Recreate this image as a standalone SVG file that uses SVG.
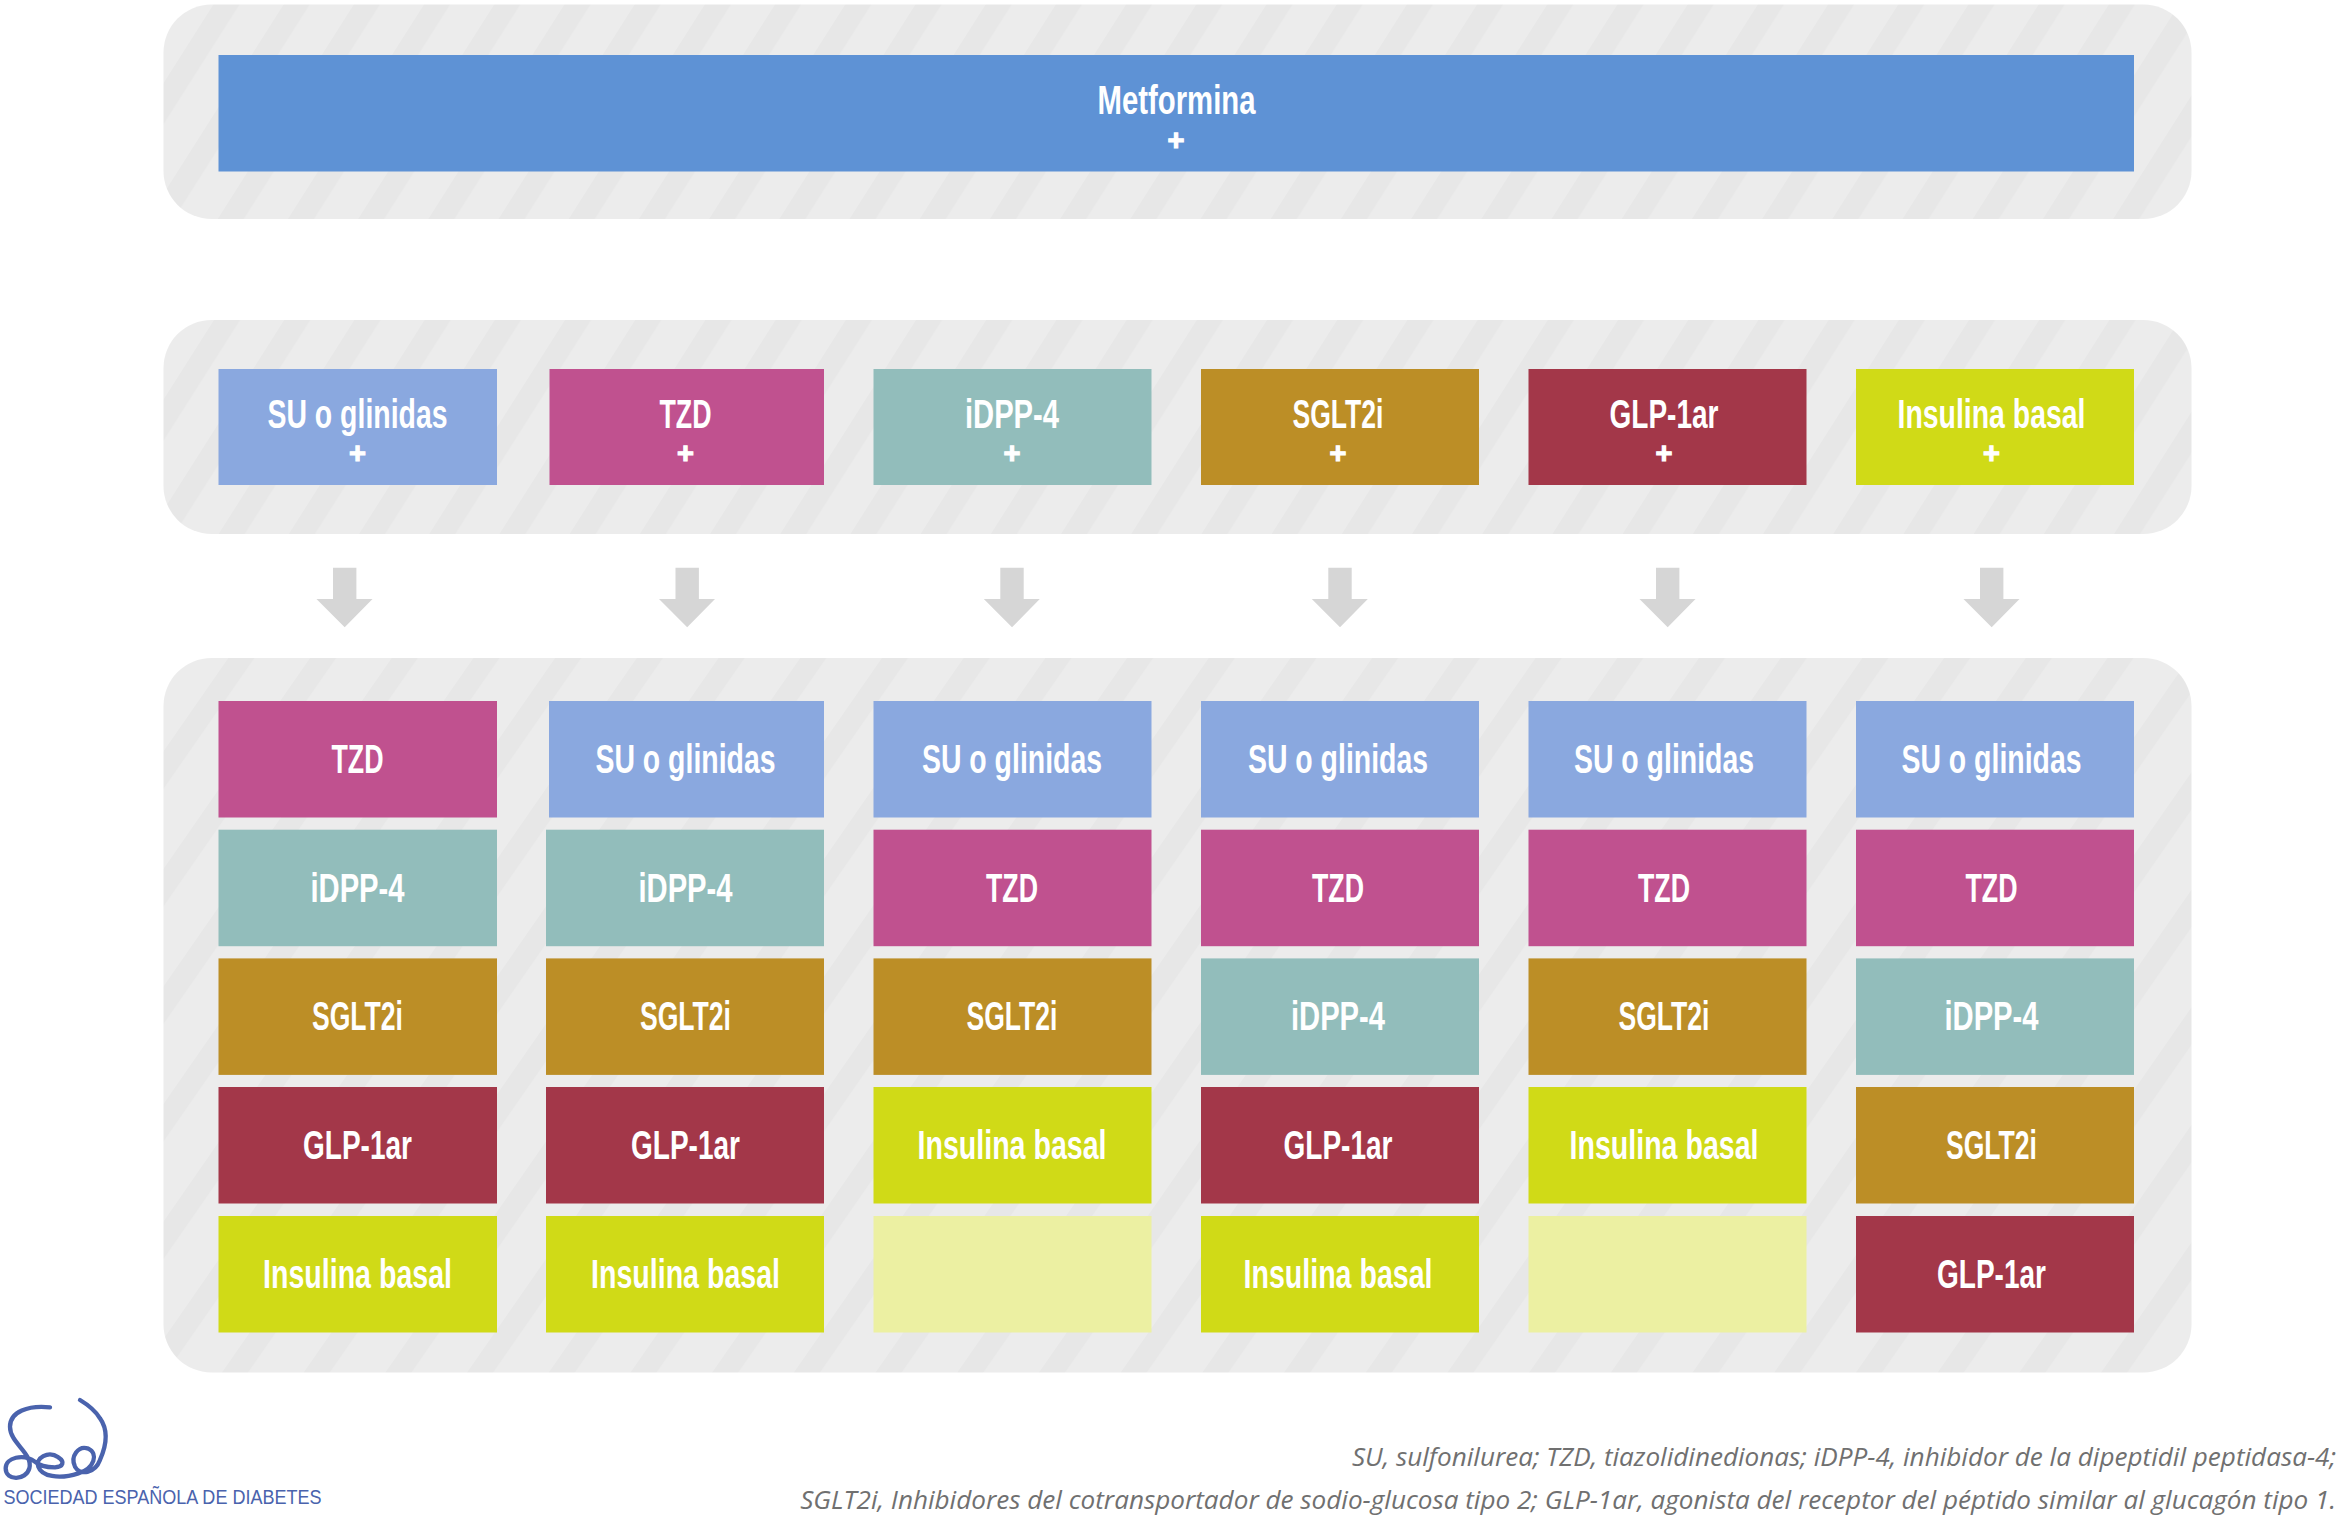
<svg xmlns="http://www.w3.org/2000/svg" width="2341" height="1519" viewBox="0 0 2341 1519">
<defs>
<pattern id="s1" width="70.2" height="100" patternUnits="userSpaceOnUse" patternTransform="translate(5.7 0) skewX(-32.4)"><rect width="70.2" height="100" fill="#ececec"/><rect width="26" height="100" fill="#e7e7e7"/></pattern>
<pattern id="s2" width="70.2" height="100" patternUnits="userSpaceOnUse" patternTransform="translate(-4.1 0) skewX(-32.4)"><rect width="70.2" height="100" fill="#ececec"/><rect width="26" height="100" fill="#e7e7e7"/></pattern>
<pattern id="s3" width="81.7" height="100" patternUnits="userSpaceOnUse" patternTransform="translate(32.1 0) skewX(-34.8)"><rect width="81.7" height="100" fill="#ececec"/><rect width="26" height="100" fill="#e7e7e7"/></pattern>
</defs>
<style>
.l{font-family:"Liberation Sans Narrow","Liberation Sans",Arial,sans-serif;font-weight:700;font-size:41.5px;fill:#fff;text-anchor:middle}
.p{font-family:"Liberation Sans",Arial,sans-serif;font-weight:700;font-size:29px;fill:#fff;stroke:#fff;stroke-width:1.2px;text-anchor:middle}
.su{fill:#8aa8df}.tzd{fill:#c0518f}.idpp{fill:#92bdbb}.sglt{fill:#bc8e26}.glp{fill:#a33749}.ins{fill:#d0da17}.off{fill:#ecf0a2}.met{fill:#5e92d5}
.ar{fill:#d6d6d6}
.foot{font-family:"Open Sans","Noto Sans",sans-serif;font-style:italic;font-size:26.1px;fill:#707070;text-anchor:end}
</style>
<rect width="2341" height="1519" fill="#fff"/>
<g id="panels">
<rect x="163.5" y="4.5" width="2028" height="214.5" rx="48" fill="url(#s1)"/>
<rect x="163.5" y="320" width="2028" height="214" rx="48" fill="url(#s2)"/>
<rect x="163.5" y="658" width="2028" height="714.5" rx="48" fill="url(#s3)"/>
</g>
<g id="metformina"><rect class="met" x="218.5" y="55" width="1915.5" height="116.5"/><text class="l" x="1176.5" y="114" textLength="158" lengthAdjust="spacingAndGlyphs">Metformina</text><text class="p" x="1176" y="150.100">+</text></g>
<g id="top-su"><rect class="su" x="218.500" y="369" width="278.500" height="116"/><text class="l" x="357.500" y="428.300" textLength="180" lengthAdjust="spacingAndGlyphs">SU o glinidas</text><text class="p" x="357.500" y="463.400">+</text></g>
<g id="top-tzd"><rect class="tzd" x="549.500" y="369" width="274.500" height="116"/><text class="l" x="685.500" y="428.300" textLength="52" lengthAdjust="spacingAndGlyphs">TZD</text><text class="p" x="685.500" y="463.400">+</text></g>
<g id="top-idpp"><rect class="idpp" x="873.500" y="369" width="278" height="116"/><text class="l" x="1012" y="428.300" textLength="94" lengthAdjust="spacingAndGlyphs">iDPP-4</text><text class="p" x="1012" y="463.400">+</text></g>
<g id="top-sglt"><rect class="sglt" x="1201" y="369" width="278" height="116"/><text class="l" x="1338" y="428.300" textLength="91" lengthAdjust="spacingAndGlyphs">SGLT2i</text><text class="p" x="1338" y="463.400">+</text></g>
<g id="top-glp"><rect class="glp" x="1528.500" y="369" width="278" height="116"/><text class="l" x="1664" y="428.300" textLength="109" lengthAdjust="spacingAndGlyphs">GLP-1ar</text><text class="p" x="1664" y="463.400">+</text></g>
<g id="top-ins"><rect class="ins" x="1856" y="369" width="278" height="116"/><text class="l" x="1991.500" y="428.300" textLength="188" lengthAdjust="spacingAndGlyphs">Insulina basal</text><text class="p" x="1991.500" y="463.400">+</text></g>
<g id="connectors">
<path id="a1" class="ar" d="M333 567.700H356.400V599H372.500L344.700 627.300 316.500 599H333Z"/>
<path id="a2" class="ar" d="M675.500 567.700H698.900V599H715L687.200 627.300 659 599H675.500Z"/>
<path id="a3" class="ar" d="M1000.300 567.700H1023.700V599H1039.800L1012 627.300 983.800 599H1000.300Z"/>
<path id="a4" class="ar" d="M1328.300 567.700H1351.700V599H1367.800L1340 627.300 1311.800 599H1328.300Z"/>
<path id="a5" class="ar" d="M1656 567.700H1679.400V599H1695.500L1667.700 627.300 1639.500 599H1656Z"/>
<path id="a6" class="ar" d="M1980 567.700H2003.400V599H2019.500L1991.700 627.300 1963.500 599H1980Z"/>
</g>
<g id="c1-1"><rect class="tzd" x="218.500" y="701" width="278.500" height="116.500"/><text class="l" x="357.500" y="773" textLength="52" lengthAdjust="spacingAndGlyphs">TZD</text></g>
<g id="c1-2"><rect class="idpp" x="218.500" y="829.700" width="278.500" height="116.500"/><text class="l" x="357.500" y="901.700" textLength="94" lengthAdjust="spacingAndGlyphs">iDPP-4</text></g>
<g id="c1-3"><rect class="sglt" x="218.500" y="958.400" width="278.500" height="116.500"/><text class="l" x="357.500" y="1030.400" textLength="91" lengthAdjust="spacingAndGlyphs">SGLT2i</text></g>
<g id="c1-4"><rect class="glp" x="218.500" y="1087" width="278.500" height="116.500"/><text class="l" x="357.500" y="1159" textLength="109" lengthAdjust="spacingAndGlyphs">GLP-1ar</text></g>
<g id="c1-5"><rect class="ins" x="218.500" y="1216" width="278.500" height="116.500"/><text class="l" x="357.500" y="1288.300" textLength="189" lengthAdjust="spacingAndGlyphs">Insulina basal</text></g>
<g id="c2-1"><rect class="su" x="549" y="701" width="275" height="116.500"/><text class="l" x="685.500" y="773" textLength="180" lengthAdjust="spacingAndGlyphs">SU o glinidas</text></g>
<g id="c2-2"><rect class="idpp" x="546" y="829.700" width="278" height="116.500"/><text class="l" x="685.500" y="901.700" textLength="94" lengthAdjust="spacingAndGlyphs">iDPP-4</text></g>
<g id="c2-3"><rect class="sglt" x="546" y="958.400" width="278" height="116.500"/><text class="l" x="685.500" y="1030.400" textLength="91" lengthAdjust="spacingAndGlyphs">SGLT2i</text></g>
<g id="c2-4"><rect class="glp" x="546" y="1087" width="278" height="116.500"/><text class="l" x="685.500" y="1159" textLength="109" lengthAdjust="spacingAndGlyphs">GLP-1ar</text></g>
<g id="c2-5"><rect class="ins" x="546" y="1216" width="278" height="116.500"/><text class="l" x="685.500" y="1288.300" textLength="189" lengthAdjust="spacingAndGlyphs">Insulina basal</text></g>
<g id="c3-1"><rect class="su" x="873.500" y="701" width="278" height="116.500"/><text class="l" x="1012" y="773" textLength="180" lengthAdjust="spacingAndGlyphs">SU o glinidas</text></g>
<g id="c3-2"><rect class="tzd" x="873.500" y="829.700" width="278" height="116.500"/><text class="l" x="1012" y="901.700" textLength="52" lengthAdjust="spacingAndGlyphs">TZD</text></g>
<g id="c3-3"><rect class="sglt" x="873.500" y="958.400" width="278" height="116.500"/><text class="l" x="1012" y="1030.400" textLength="91" lengthAdjust="spacingAndGlyphs">SGLT2i</text></g>
<g id="c3-4"><rect class="ins" x="873.500" y="1087" width="278" height="116.500"/><text class="l" x="1012" y="1159" textLength="189" lengthAdjust="spacingAndGlyphs">Insulina basal</text></g>
<g id="c3-5"><rect class="off" x="873.500" y="1216" width="278" height="116.500"/></g>
<g id="c4-1"><rect class="su" x="1201" y="701" width="278" height="116.500"/><text class="l" x="1338" y="773" textLength="180" lengthAdjust="spacingAndGlyphs">SU o glinidas</text></g>
<g id="c4-2"><rect class="tzd" x="1201" y="829.700" width="278" height="116.500"/><text class="l" x="1338" y="901.700" textLength="52" lengthAdjust="spacingAndGlyphs">TZD</text></g>
<g id="c4-3"><rect class="idpp" x="1201" y="958.400" width="278" height="116.500"/><text class="l" x="1338" y="1030.400" textLength="94" lengthAdjust="spacingAndGlyphs">iDPP-4</text></g>
<g id="c4-4"><rect class="glp" x="1201" y="1087" width="278" height="116.500"/><text class="l" x="1338" y="1159" textLength="109" lengthAdjust="spacingAndGlyphs">GLP-1ar</text></g>
<g id="c4-5"><rect class="ins" x="1201" y="1216" width="278" height="116.500"/><text class="l" x="1338" y="1288.300" textLength="189" lengthAdjust="spacingAndGlyphs">Insulina basal</text></g>
<g id="c5-1"><rect class="su" x="1528.500" y="701" width="278" height="116.500"/><text class="l" x="1664" y="773" textLength="180" lengthAdjust="spacingAndGlyphs">SU o glinidas</text></g>
<g id="c5-2"><rect class="tzd" x="1528.500" y="829.700" width="278" height="116.500"/><text class="l" x="1664" y="901.700" textLength="52" lengthAdjust="spacingAndGlyphs">TZD</text></g>
<g id="c5-3"><rect class="sglt" x="1528.500" y="958.400" width="278" height="116.500"/><text class="l" x="1664" y="1030.400" textLength="91" lengthAdjust="spacingAndGlyphs">SGLT2i</text></g>
<g id="c5-4"><rect class="ins" x="1528.500" y="1087" width="278" height="116.500"/><text class="l" x="1664" y="1159" textLength="189" lengthAdjust="spacingAndGlyphs">Insulina basal</text></g>
<g id="c5-5"><rect class="off" x="1528.500" y="1216" width="278" height="116.500"/></g>
<g id="c6-1"><rect class="su" x="1856" y="701" width="278" height="116.500"/><text class="l" x="1991.500" y="773" textLength="180" lengthAdjust="spacingAndGlyphs">SU o glinidas</text></g>
<g id="c6-2"><rect class="tzd" x="1856" y="829.700" width="278" height="116.500"/><text class="l" x="1991.500" y="901.700" textLength="52" lengthAdjust="spacingAndGlyphs">TZD</text></g>
<g id="c6-3"><rect class="idpp" x="1856" y="958.400" width="278" height="116.500"/><text class="l" x="1991.500" y="1030.400" textLength="94" lengthAdjust="spacingAndGlyphs">iDPP-4</text></g>
<g id="c6-4"><rect class="sglt" x="1856" y="1087" width="278" height="116.500"/><text class="l" x="1991.500" y="1159" textLength="91" lengthAdjust="spacingAndGlyphs">SGLT2i</text></g>
<g id="c6-5"><rect class="glp" x="1856" y="1216" width="278" height="116.500"/><text class="l" x="1991.500" y="1288.300" textLength="109" lengthAdjust="spacingAndGlyphs">GLP-1ar</text></g>
<g id="logo">
<path transform="translate(0 1350) scale(.3333)" fill="none" stroke="#4a63ad" stroke-width="13" stroke-linecap="round" d="M150 172C85 165 30 185 30 230C30 280 100 310 88 355C78 392 17 395 17 355C17 322 70 310 105 335C115 345 140 352 165 352C190 350 195 335 175 322C145 300 105 325 115 350C125 378 175 390 235 370C285 355 295 310 265 296C235 285 210 320 225 350C240 378 285 370 300 330C320 285 325 240 300 205C285 180 265 165 240 150"/>
<text x="3.500" y="1504" font-family="Liberation Sans, Arial, sans-serif" font-size="19.300" fill="#4a63ad" textLength="318" lengthAdjust="spacingAndGlyphs">SOCIEDAD ESPAÑOLA DE DIABETES</text>
</g>
<g id="footnote">
<text class="foot" x="2336" y="1466">SU, sulfonilurea; TZD, tiazolidinedionas; iDPP-4, inhibidor de la dipeptidil peptidasa-4;</text>
<text class="foot" x="2336" y="1509">SGLT2i, Inhibidores del cotransportador de sodio-glucosa tipo 2; GLP-1ar, agonista del receptor del péptido similar al glucagón tipo 1.</text>
</g>
</svg>
